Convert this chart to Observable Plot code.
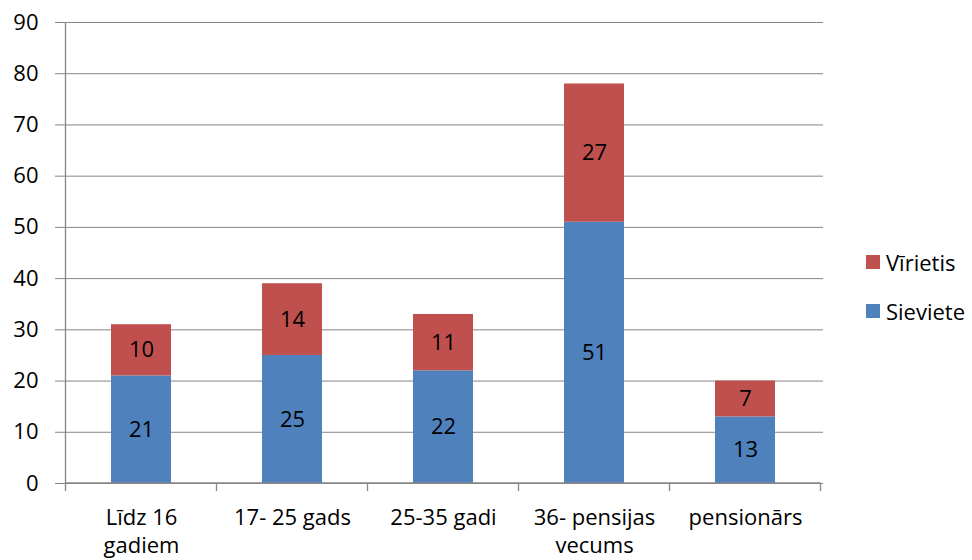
<!DOCTYPE html>
<html><head><meta charset="utf-8">
<script src="https://cdn.jsdelivr.net/npm/d3@7"></script>
<script src="https://cdn.jsdelivr.net/npm/@observablehq/plot@0.6"></script>
<style>
body{margin:0;background:#fff;font-family:"Open Sans",sans-serif;}
#wrap{position:relative;width:972px;height:560px;}
.leg{position:absolute;left:866px;font-size:22px;line-height:26px;color:#000;display:flex;align-items:center;white-space:nowrap;}
.leg span.sw{display:inline-block;width:14px;height:14px;margin-right:6px;}
</style></head>
<body><div id="wrap"></div>
<script>
const categories = ["Līdz 16\ngadiem","17- 25 gads","25-35 gadi","36- pensijas\nvecums","pensionārs"];
const sieviete = [21,25,22,51,13];
const virietis = [10,14,11,27,7];
const series = ["Sieviete","Vīrietis"];
const colors = ["#4F81BD","#C0504D"];
const yTicks = [0,10,20,30,40,50,60,70,80,90];

const data = [];
categories.forEach((c,i)=>{
  data.push({cat:c, s:"Sieviete", v:sieviete[i]});
  data.push({cat:c, s:"Vīrietis", v:virietis[i]});
});

const grid = "#868686";
const FS = 22;
const plot = Plot.plot({
  width: 972, height: 560,
  marginLeft: 63, marginRight: 149, marginTop: 22, marginBottom: 77,
  style: {fontFamily: "'Open Sans', sans-serif", fontSize: FS+"px", background: "#fff", color:"#000"},
  x: {domain: categories, paddingInner: 0.605, paddingOuter: 0.3026, label: null},
  y: {domain: [0,90], label: null},
  color: {domain: series, range: colors},
  marks: [
    Plot.gridY(yTicks, {stroke: grid, strokeOpacity: 1}),
    Plot.barY(data, Plot.stackY({x:"cat", y:"v", fill:"s", order: series})),
    Plot.text(data, Plot.stackY({x:"cat", y:"v", z:"s", text:"v", order: series, fontSize: FS, fill:"#000"})),
    Plot.axisY(yTicks, {tickSize: 8, tickPadding: 17, stroke: grid, fontSize: FS, fill:"#000", label:null}),
    Plot.axisX({tickSize: 0, tickPadding: 22, fontSize: FS, lineHeight: 1.27, fill:"#000", label:null}),
  ]
});

// axis lines and category boundary ticks
const svg = d3.select(plot);
const xs = plot.scale("x");
const ys = plot.scale("y");
const y0 = ys.apply(0), yTop = ys.apply(90);
const step = xs.step, bw = xs.bandwidth;
const left = xs.apply(categories[0]) - (step - bw)/2;
const g = svg.append("g").attr("stroke", grid).attr("stroke-width", 1.3);
g.append("line").attr("x1", left).attr("x2", left).attr("y1", yTop).attr("y2", y0);
g.append("line").attr("x1", left).attr("x2", left + step*categories.length).attr("y1", y0).attr("y2", y0);
for (let i=0;i<=categories.length;i++){
  const x = left + step*i;
  g.append("line").attr("x1", x).attr("x2", x).attr("y1", y0).attr("y2", y0+8);
}
document.getElementById("wrap").appendChild(plot);

// legend
const wrap = document.getElementById("wrap");
[["Vīrietis",colors[1],249],["Sieviete",colors[0],298]].forEach(([t,c,top])=>{
  const d = document.createElement("div");
  d.className="leg"; d.style.top = top+"px";
  d.innerHTML = `<span class="sw" style="background:${c}"></span>${t}`;
  wrap.appendChild(d);
});
</script></body></html>
